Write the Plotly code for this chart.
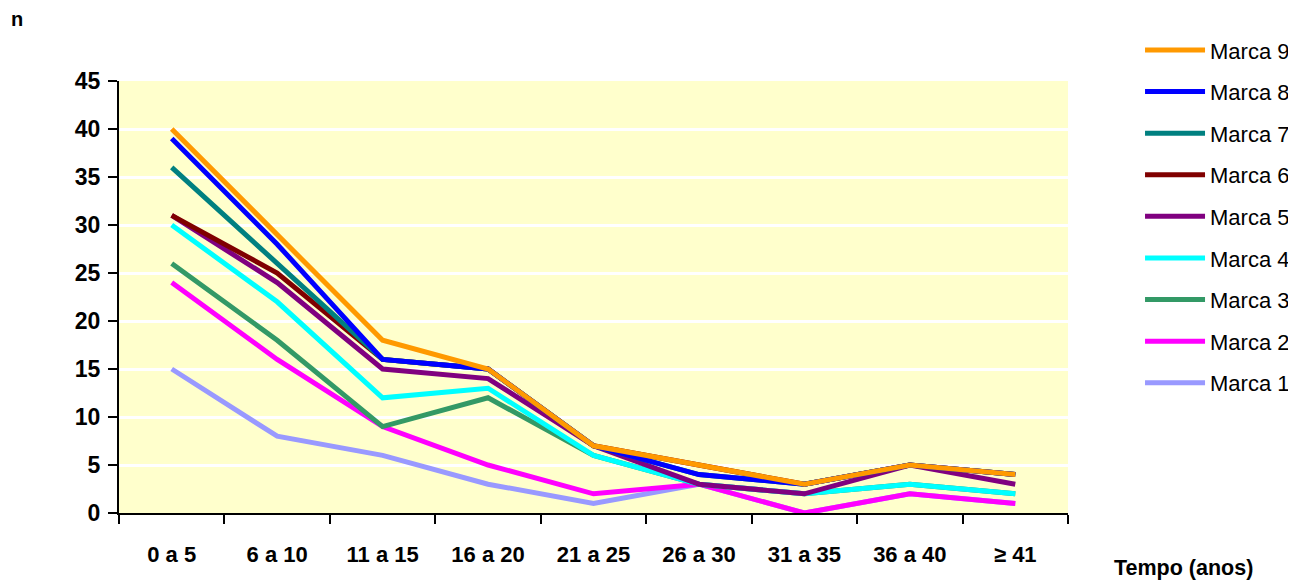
import plotly.graph_objects as go

categories = ["0 a 5", "6 a 10", "11 a 15", "16 a 20", "21 a 25", "26 a 30", "31 a 35", "36 a 40", "≥ 41"]

marca1 = [15, 8, 6, 3, 1, 3, 0, 2, 1]
marca2 = [24, 16, 9, 5, 2, 3, 0, 2, 1]
marca3 = [26, 18, 9, 12, 6, 3, 2, 3, 2]
marca4 = [30, 22, 12, 13, 6, 3, 2, 3, 2]
marca5 = [31, 24, 15, 14, 7, 3, 2, 5, 3]
marca6 = [31, 25, 16, 15, 7, 5, 3, 5, 4]
marca7 = [36, 26, 16, 15, 7, 4, 3, 5, 4]
marca8 = [39, 28, 16, 15, 7, 4, 3, 5, 4]
marca9 = [40, 29, 18, 15, 7, 5, 3, 5, 4]

series_names = ["Marca 1", "Marca 2", "Marca 3", "Marca 4", "Marca 5", "Marca 6", "Marca 7", "Marca 8", "Marca 9"]
series_values = [marca1, marca2, marca3, marca4, marca5, marca6, marca7, marca8, marca9]
colors = ["#9999FF", "#FF00FF", "#339966", "#00FFFF", "#800080", "#800000", "#008080", "#0000FF", "#FF9900"]

fig = go.Figure()
n = len(series_names)
for i, (name, vals, col) in enumerate(zip(series_names, series_values, colors)):
    fig.add_trace(go.Scatter(
        x=categories, y=vals, name=name, mode="lines",
        line=dict(color=col, width=5),
        legendgroup=name,
        legendrank=n - i,
    ))

font_main = "Arial, Liberation Sans, sans-serif"

fig.update_layout(
    width=1296, height=580,
    margin=dict(l=111, r=236, t=73, b=75, autoexpand=False),
    paper_bgcolor="white",
    plot_bgcolor="#FFFFCC",
    font=dict(family=font_main, color="black"),
    showlegend=True,
    legend=dict(
        traceorder="grouped",
        x=1.0759, xanchor="left",
        y=1.12, yanchor="top",
        font=dict(size=22, family=font_main, color="black"),
        tracegroupgap=10,
        itemwidth=60,
        maxheight=540,
        bgcolor="rgba(0,0,0,0)",
    ),
    xaxis=dict(
        type="category",
        automargin=False,
        showline=True, linecolor="black", linewidth=2,
        ticks="outside", tickson="boundaries", ticklen=9, tickwidth=2, tickcolor="black",
        showgrid=False,
        tickfont=dict(size=22, family=font_main, color="black", weight="bold"),
        ticklabelstandoff=21,
        range=[-0.5, 8.5],
    ),
    yaxis=dict(
        automargin=False,
        range=[0, 45],
        tickvals=[0, 5, 10, 15, 20, 25, 30, 35, 40, 45],
        showline=True, linecolor="black", linewidth=2,
        ticks="outside", ticklen=9, tickwidth=2, tickcolor="black",
        showgrid=True, gridcolor="white", gridwidth=3,
        zeroline=False,
        ticklabelstandoff=3,
        tickfont=dict(size=23, family=font_main, color="black", weight="bold"),
    ),
    annotations=[
        dict(text="<b>n</b>", xref="paper", yref="paper", x=-0.116, y=1.1435,
             xanchor="left", yanchor="middle", showarrow=False,
             font=dict(size=20, family=font_main, color="black")),
        dict(text="<b>Tempo (anos)</b>", xref="paper", yref="paper", x=1.0464, y=-0.1273,
             xanchor="left", yanchor="middle", showarrow=False,
             font=dict(size=21.5, family=font_main, color="black")),
    ],
)

fig.write_html("out.html")
